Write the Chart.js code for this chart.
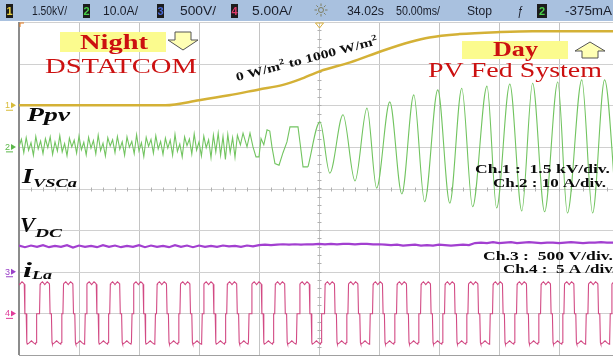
<!DOCTYPE html>
<html>
<head>
<meta charset="utf-8">
<script src="https://cdn.jsdelivr.net/npm/chart.js@4"></script>
<style>
  html, body { margin: 0; padding: 0; background: #fff; overflow: hidden; }
  canvas { display: block; }
</style>
</head>
<body>
<canvas id="scope" width="613" height="356"></canvas>
<script>
// scope screen: x in ms (50 ms/div), y in screen divisions (-4 .. 4)
const timeGrid = [0, 50, 100, 150, 200, 250, 300, 350, 400, 450];
const divGrid = [-4, -3, -2, -1, 0, 1, 2, 3, 4];

// Ch.1  Ppv (irradiance ramp 0 -> 1000 W/m2)
const ppvTime = [0, 122, 150, 175, 200, 220, 234, 251, 276, 303, 326, 342, 367, 401, 428, 495];
const ppvDiv = [2.0, 2.0, 2.12, 2.24, 2.38, 2.49, 2.62, 2.82, 3.03, 3.31, 3.52, 3.63, 3.71, 3.76, 3.78, 3.78];

// Ch.2  IVSCa, night part (sampled every 2 ms)
const ivscStep = 2;
const ivscNoise = [
  1.00, 1.18, 0.86, 1.22, 0.92, 1.10, 0.80, 1.25, 0.95, 1.14, 0.84, 1.20,
  0.98, 1.24, 0.82, 1.12, 0.90, 1.27, 0.88, 1.08, 0.79, 1.21, 1.00, 1.16,
  0.85, 1.26, 0.93, 1.11, 0.81, 1.23, 0.97, 1.15, 0.83, 1.28, 0.91, 1.09,
  0.78, 1.22, 1.02, 1.17, 0.86, 1.25, 0.94, 1.12, 0.80, 1.24, 0.99, 1.13,
  0.84, 1.29, 0.90, 1.10, 0.77, 1.23, 1.01, 1.18, 0.85, 1.27, 0.95, 1.13,
  0.82, 1.21, 0.97, 1.16, 0.80, 1.30, 0.89, 1.07, 0.76, 1.24, 1.03, 1.19,
  0.83, 1.31, 0.92, 1.12, 0.78, 1.26, 0.98, 1.17, 0.74, 1.28, 0.88, 1.33,
  0.80, 1.25, 0.70, 1.30, 0.86, 1.22, 0.75, 1.28
];
// Ch.2  transition (ms, div)
const ivscTransTime = [184.5, 186.7, 190, 192.5, 195, 197.5, 200, 201.7, 204, 206.7, 209, 210.8, 213.3, 216.7, 220, 223.3, 225.8, 232.5, 234.2, 236.7, 240.8];
const ivscTransDiv = [1.05, 1.33, 1.0, 1.33, 1.0, 0.76, 0.76, 1.2, 1.05, 1.41, 1.38, 1.0, 0.60, 0.56, 0.86, 1.12, 1.48, 1.48, 1.1, 0.52, 0.52];
// Ch.2  day part, peaks and troughs (ms, div)
const ivscSwingTime = [240.8, 250.8, 259, 270, 280, 290, 298, 309, 319, 329, 338, 349, 359, 369, 378, 390, 398, 409, 419, 428, 438, 449, 457, 469, 478, 488, 498];
const ivscSwingDiv = [0.52, 1.60, 0.37, 1.77, 0.18, 1.93, 0.01, 2.08, -0.13, 2.25, -0.32, 2.37, -0.35, 2.41, -0.44, 2.46, -0.47, 2.51, -0.54, 2.53, -0.56, 2.56, -0.59, 2.61, -0.59, 2.61, -0.60];

// Ch.3  VDC (sampled every 5 ms)
const vdcStep = 5;
const vdcDiv = [
  -1.37, -1.41, -1.37, -1.40, -1.36, -1.41, -1.38, -1.40, -1.36, -1.42,
  -1.37, -1.40, -1.38, -1.41, -1.36, -1.40, -1.37, -1.41, -1.38, -1.40,
  -1.36, -1.41, -1.37, -1.40, -1.38, -1.41, -1.36, -1.40, -1.37, -1.41,
  -1.37, -1.40, -1.38, -1.40, -1.37, -1.39, -1.38, -1.40, -1.37, -1.39,
  -1.36, -1.35, -1.36, -1.35, -1.34, -1.35, -1.34, -1.35, -1.34, -1.34,
  -1.33, -1.34, -1.33, -1.34, -1.33, -1.33, -1.34, -1.33, -1.33, -1.34,
  -1.34, -1.35, -1.36, -1.35, -1.37, -1.36, -1.35, -1.37, -1.36, -1.37,
  -1.35, -1.36, -1.37, -1.36, -1.35, -1.36,
  -1.31, -1.30, -1.31, -1.29, -1.31, -1.30, -1.29, -1.31, -1.30, -1.29,
  -1.30, -1.31, -1.30, -1.30, -1.31, -1.30, -1.29, -1.30, -1.31, -1.30,
  -1.30, -1.29, -1.30, -1.30
];

// Ch.4  iLa: one cycle (ms from top centre, div) and the cycle centres
const iLaShapeTime = [-4.4, -3.9, -3.5, -2.0, 0, 2.0, 3.5, 3.9, 4.4, 5.5, 6.0, 6.4, 8.0, 9.85, 11.7, 13.3, 13.7, 14.2];
const iLaShapeDiv = [-3.01, -2.30, -2.28, -2.24, -2.31, -2.24, -2.28, -2.30, -3.01, -3.01, -3.70, -3.74, -3.71, -3.66, -3.71, -3.74, -3.70, -3.01];
const iLaCentres = [0.5, 21.5, 41, 60.5, 80, 99.5, 119, 138.5, 158, 177.5, 198, 217.5, 238, 259, 278.5, 299, 319, 339, 359, 378.5, 399, 419, 439, 458.5, 478.5, 498];

const pairs = (xs, ys) => xs.map((x, i) => ({ x: x, y: ys[i] }));

const ivscNight = ivscNoise.map((v, i) => ({ x: i * ivscStep, y: v })).concat(pairs(ivscTransTime, ivscTransDiv));
const vdcPoints = vdcDiv.map((v, i) => ({ x: i * vdcStep, y: v }));
const iLaPoints = [];
iLaCentres.forEach(function (c) {
  iLaShapeTime.forEach(function (dt, i) {
    iLaPoints.push({ x: c + dt, y: iLaShapeDiv[i] });
  });
});

function fitText(ctx, txt, x, y, font, color, width) {
  ctx.save();
  ctx.font = font;
  ctx.fillStyle = color;
  ctx.textBaseline = 'alphabetic';
  const w = ctx.measureText(txt).width;
  ctx.translate(x, y);
  if (width) ctx.scale(width / w, 1);
  ctx.fillText(txt, 0, 0);
  ctx.restore();
}

const scopeFrame = {
  id: 'scopeFrame',
  beforeDraw(chart) {
    const ctx = chart.ctx;
    ctx.save();
    ctx.fillStyle = '#fff';
    ctx.fillRect(0, 0, chart.width, chart.height);

    // status bar
    ctx.fillStyle = '#a9c1df';
    ctx.fillRect(0, 0, chart.width, 21);
    const boxes = [[6, '1', '#e8d040'], [83, '2', '#48d048'], [157, '3', '#4a6ad8'], [231, '4', '#e03a6a'], [537, '2', '#48d048']];
    boxes.forEach(function (b) {
      ctx.fillStyle = '#1c1c1c';
      ctx.fillRect(b[0], 4, b[0] === 537 ? 10 : 7, 14);
      ctx.font = 'bold 11px "Liberation Sans"';
      ctx.fillStyle = b[2];
      ctx.textAlign = 'center';
      ctx.fillText(b[1], b[0] + (b[0] === 537 ? 5 : 3.5), 15);
    });
    ctx.textAlign = 'left';
    const sf = '12.5px "Liberation Sans"', sc = '#1a1e2a';
    fitText(ctx, '1.50kV/', 32, 15, sf, sc, 35);
    fitText(ctx, '10.0A/', 103, 15, sf, sc, 35);
    fitText(ctx, '500V/', 180, 15, sf, sc, 36);
    fitText(ctx, '5.00A/', 252, 15, sf, sc, 40);
    fitText(ctx, '34.02s', 347, 15, sf, sc, 37);
    fitText(ctx, '50.00ms/', 396, 15, sf, sc, 44);
    fitText(ctx, 'Stop', 467, 15, sf, sc, 25);
    fitText(ctx, '\u0192', 517, 15, 'italic 12px "Liberation Sans"', sc, 6);
    fitText(ctx, '-375mA', 565, 15, sf, sc, 47);
    // sun icon
    ctx.strokeStyle = '#7d7d60';
    ctx.lineWidth = 1;
    ctx.beginPath();
    ctx.arc(321, 10, 2.5, 0, Math.PI * 2);
    for (let k = 0; k < 8; k++) {
      const a = k * Math.PI / 4;
      ctx.moveTo(321 + Math.cos(a) * 4, 10 + Math.sin(a) * 4);
      ctx.lineTo(321 + Math.cos(a) * 6.5, 10 + Math.sin(a) * 6.5);
    }
    ctx.stroke();
    ctx.restore();
  },
  beforeDatasetsDraw(chart) {
    const ctx = chart.ctx, xs = chart.scales.x, ys = chart.scales.y, area = chart.chartArea;
    ctx.save();
    ctx.lineWidth = 1;
    ctx.strokeStyle = '#c4c4c4';
    timeGrid.forEach(function (t) {
      const px = Math.round(xs.getPixelForValue(t)) + 0.5;
      ctx.beginPath(); ctx.moveTo(px, area.top); ctx.lineTo(px, area.bottom); ctx.stroke();
    });
    ctx.strokeStyle = '#d0d0d0';
    divGrid.forEach(function (d) {
      const py = Math.round(ys.getPixelForValue(d)) + 0.5;
      ctx.beginPath(); ctx.moveTo(area.left, py); ctx.lineTo(area.right, py); ctx.stroke();
    });
    // minor ticks on the centre axes
    ctx.strokeStyle = '#b0b0b0';
    const cy = Math.round(ys.getPixelForValue(0)) + 0.5;
    for (let t = 10; t < 495; t += 10) {
      const px = Math.round(xs.getPixelForValue(t)) + 0.5;
      ctx.beginPath(); ctx.moveTo(px, cy - 2); ctx.lineTo(px, cy + 2); ctx.stroke();
    }
    const cx = Math.round(xs.getPixelForValue(250)) + 0.5;
    for (let d = -3.8; d < 4; d += 0.2) {
      const py = Math.round(ys.getPixelForValue(d)) + 0.5;
      ctx.beginPath(); ctx.moveTo(cx - 2, py); ctx.lineTo(cx + 2, py); ctx.stroke();
    }
    // screen border
    ctx.strokeStyle = '#8c8c8c';
    ctx.lineWidth = 2;
    ctx.beginPath(); ctx.moveTo(area.left, area.top); ctx.lineTo(area.left, area.bottom); ctx.stroke();
    ctx.lineWidth = 1;
    ctx.strokeStyle = '#a0a0a0';
    ctx.beginPath(); ctx.moveTo(area.left, area.bottom + 0.5); ctx.lineTo(area.right, area.bottom + 0.5); ctx.stroke();
    // trigger and time reference markers
    ctx.strokeStyle = '#e07a20';
    ctx.beginPath(); ctx.moveTo(area.left + 1, area.top + 5); ctx.lineTo(area.left + 1, area.top + 1); ctx.lineTo(area.left + 5, area.top + 1); ctx.stroke();
    ctx.strokeStyle = '#d8b040';
    ctx.beginPath(); ctx.moveTo(cx - 4, area.top + 1); ctx.lineTo(cx + 4, area.top + 1); ctx.lineTo(cx, area.top + 6); ctx.closePath(); ctx.stroke();
    ctx.restore();
  },
  afterDatasetsDraw(chart) {
    const ctx = chart.ctx, ys = chart.scales.y;
    ctx.save();
    // channel ground markers
    [[2, '1', '#d8bc3a'], [1, '2', '#5cb84a'], [-2, '3', '#9a40c8'], [-3, '4', '#e03c9a']].forEach(function (m) {
      const py = ys.getPixelForValue(m[0]);
      ctx.fillStyle = m[2];
      ctx.strokeStyle = m[2];
      ctx.font = '9px "Liberation Sans"';
      ctx.fillText(m[1], 5, py + 3);
      ctx.beginPath(); ctx.moveTo(11, py - 3); ctx.lineTo(16, py); ctx.lineTo(11, py + 3); ctx.closePath(); ctx.fill();
      ctx.beginPath(); ctx.moveTo(6, py + 5); ctx.lineTo(13, py + 5); ctx.stroke();
    });

    const red = '#cc1010';
    // Night / DSTATCOM
    ctx.fillStyle = '#fbfb8e';
    ctx.fillRect(60, 32, 106, 20);
    fitText(ctx, 'Night', 80, 49, 'bold 21px "Liberation Serif"', red, 68);
    ctx.fillStyle = '#ffffb4';
    ctx.strokeStyle = '#555';
    ctx.lineWidth = 1;
    ctx.beginPath();
    ctx.moveTo(175, 32); ctx.lineTo(191, 32); ctx.lineTo(191, 40); ctx.lineTo(198, 40);
    ctx.lineTo(183, 50); ctx.lineTo(168, 40); ctx.lineTo(175, 40); ctx.closePath();
    ctx.fill(); ctx.stroke();
    fitText(ctx, 'DSTATCOM', 45, 73, '21px "Liberation Serif"', red, 152);

    // Day / PV Fed System
    ctx.fillStyle = '#fbfb8e';
    ctx.fillRect(462, 41, 106, 18);
    fitText(ctx, 'Day', 493, 56, 'bold 21px "Liberation Serif"', red, 45);
    ctx.fillStyle = '#ffffb4';
    ctx.beginPath();
    ctx.moveTo(590, 42); ctx.lineTo(605, 51); ctx.lineTo(598, 51); ctx.lineTo(598, 58);
    ctx.lineTo(582, 58); ctx.lineTo(582, 51); ctx.lineTo(575, 51); ctx.closePath();
    ctx.fill(); ctx.stroke();
    fitText(ctx, 'PV Fed System', 428, 77, '21px "Liberation Serif"', red, 174);

    // irradiance note along the ramp, stretched to its on-screen length
    const nf = 'bold 12px "Liberation Serif"', sf2 = 'bold 8px "Liberation Serif"';
    const parts = [['0 W/m', nf, 0], ['2', sf2, -5], [' to 1000 W/m', nf, 0], ['2', sf2, -5]];
    let total = 0;
    parts.forEach(function (p) { ctx.font = p[1]; total += ctx.measureText(p[0]).width; });
    ctx.save();
    ctx.translate(237, 81);
    ctx.rotate(-14.6 * Math.PI / 180);
    ctx.scale(146 / total, 1);
    ctx.fillStyle = '#111';
    let cxp = 0;
    parts.forEach(function (p) {
      ctx.font = p[1];
      ctx.fillText(p[0], cxp, p[2]);
      cxp += ctx.measureText(p[0]).width;
    });
    ctx.restore();

    // trace names
    const ink = '#0a0a0a';
    fitText(ctx, 'Ppv', 27, 121, 'bold italic 19px "Liberation Serif"', ink, 43);
    fitText(ctx, 'I', 22, 183, 'bold italic 22px "Liberation Serif"', ink, 11);
    fitText(ctx, 'VSCa', 33, 187, 'bold italic 13px "Liberation Serif"', ink, 44);
    fitText(ctx, 'V', 20, 232, 'bold italic 21px "Liberation Serif"', ink, 15);
    fitText(ctx, 'DC', 35, 237, 'bold italic 13px "Liberation Serif"', ink, 27);
    fitText(ctx, 'i', 23, 277, 'bold italic 21px "Liberation Serif"', ink, 9);
    fitText(ctx, 'La', 32, 279, 'bold italic 13px "Liberation Serif"', ink, 20);

    // channel scales
    const cf = 'bold 12px "Liberation Serif"';
    fitText(ctx, 'Ch.1 :  1.5 kV/div.', 475, 173, cf, ink, 135);
    fitText(ctx, 'Ch.2 : 10 A/div.', 493, 187, cf, ink, 113);
    fitText(ctx, 'Ch.3 :  500 V/div.', 483, 260, cf, ink, 130);
    fitText(ctx, 'Ch.4 :  5 A /div.', 503, 273, cf, ink, 113);
    ctx.restore();
  }
};

new Chart(document.getElementById('scope'), {
  type: 'line',
  data: {
    datasets: [
      { label: 'Ppv', data: pairs(ppvTime, ppvDiv), borderColor: '#d4b136', borderWidth: 2.5, cubicInterpolationMode: 'monotone' },
      { label: 'IVSCa night', data: ivscNight, borderColor: '#72c460', borderWidth: 1.1, tension: 0 },
      { label: 'IVSCa day', data: pairs(ivscSwingTime, ivscSwingDiv), borderColor: '#72c460', borderWidth: 1.1, cubicInterpolationMode: 'monotone' },
      { label: 'VDC', data: vdcPoints, borderColor: '#a23fd0', borderWidth: 2.2, tension: 0 },
      { label: 'iLa', data: iLaPoints, borderColor: '#d24a84', borderWidth: 1.1, tension: 0 }
    ]
  },
  options: {
    responsive: false,
    devicePixelRatio: 1,
    animation: false,
    events: [],
    layout: { padding: { left: 19, right: 0, top: 22, bottom: 1 } },
    elements: { point: { radius: 0 } },
    plugins: { legend: { display: false }, tooltip: { enabled: false } },
    scales: {
      x: { type: 'linear', min: 0, max: 495, display: false },
      y: { min: -4, max: 4, display: false }
    }
  },
  plugins: [scopeFrame]
});
</script>
</body>
</html>
